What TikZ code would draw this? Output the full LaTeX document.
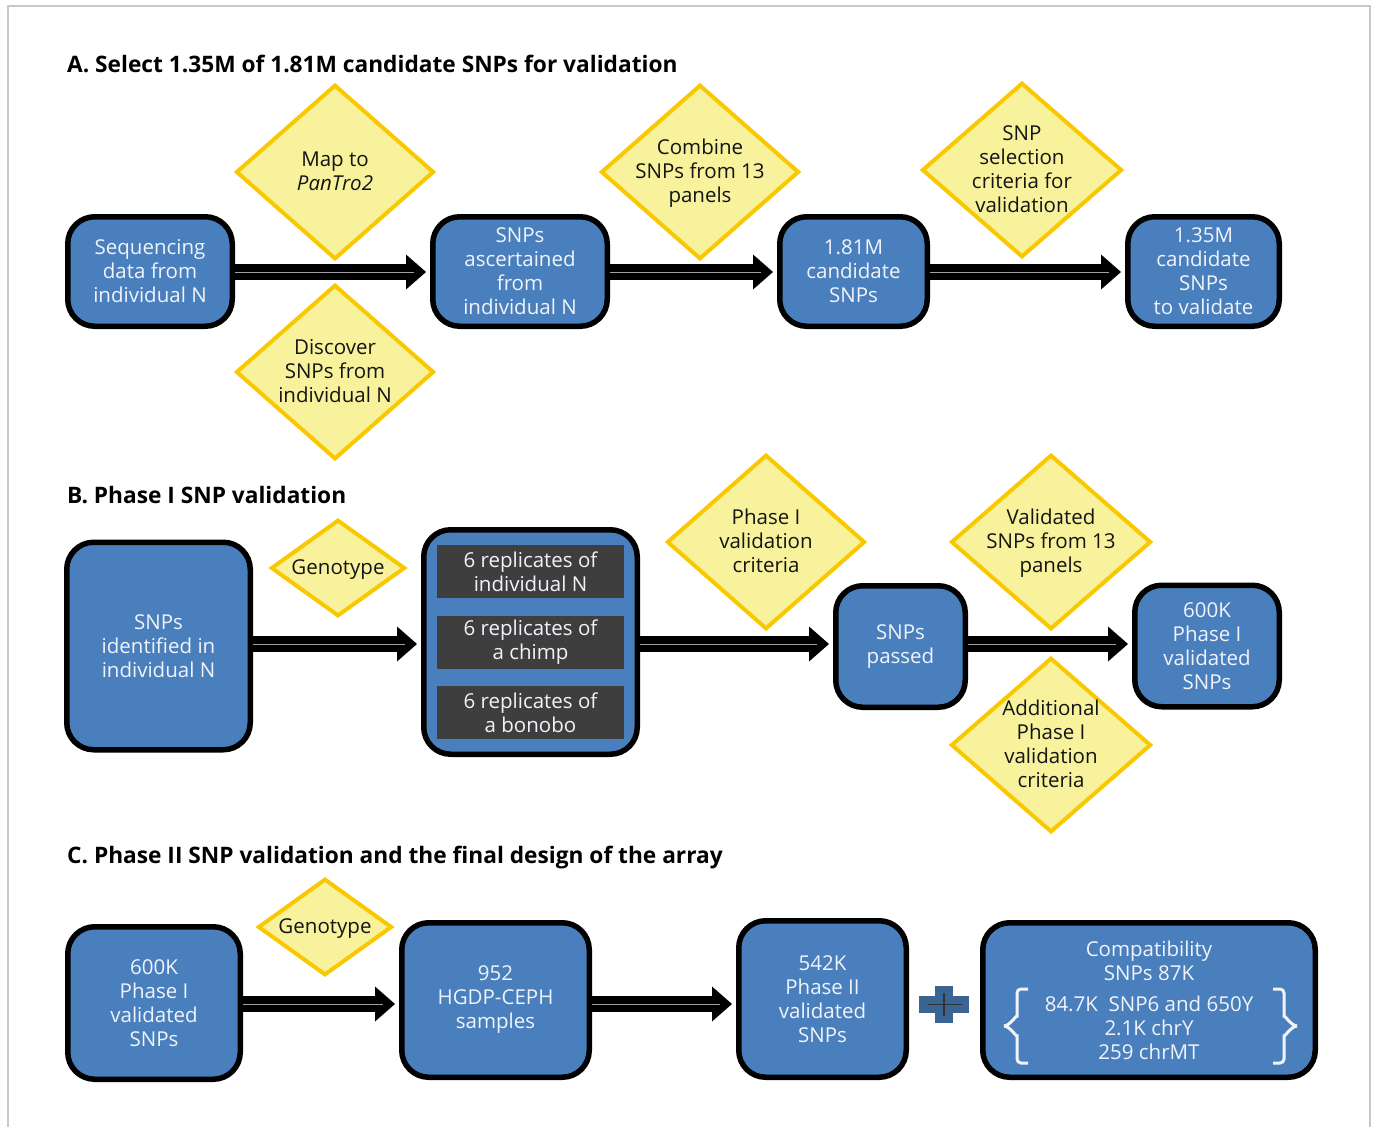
\documentclass[tikz,border=0pt]{standalone}
\usepackage{fontspec}
\setmainfont{Open Sans}
\usetikzlibrary{arrows.meta,shapes.geometric}
\definecolor{boxblue}{RGB}{74,127,189}
\definecolor{dfill}{RGB}{247,242,155}
\definecolor{dline}{RGB}{250,200,0}
\definecolor{rgray}{RGB}{62,62,62}
\definecolor{plusblue}{RGB}{58,100,146}
\definecolor{framegray}{RGB}{200,200,200}
\definecolor{btext}{RGB}{240,244,250}
\definecolor{dtext}{RGB}{20,20,20}
\newcommand{\dtxt}[1]{\makebox[0pt]{\raisebox{-7pt}[0pt][0pt]{\begin{tabular}{@{}c@{}}#1\end{tabular}}}}
\tikzset{
  bbox/.style={draw=black, line width=5.5pt, fill=boxblue, rounded corners=27pt, text=btext, align=center, inner sep=0pt, font=\fontsize{20.5}{24}\selectfont},
  bs/.style 2 args={minimum width=#1pt-5.5pt, minimum height=#2pt-5.5pt},
  dia/.style={shape=diamond, draw=dline, line width=4pt, fill=dfill, inner sep=0pt, text=dtext, font=\fontsize{20.5}{24}\selectfont},
  ds/.style 2 args={minimum width=#1pt-6pt, minimum height=#2pt-5.5pt},
  rep/.style={fill=rgray, text=btext, align=center, inner sep=0pt, font=\fontsize{20.5}{24}\selectfont, minimum width=187pt, minimum height=53pt},
  bigarrow/.style={draw=black, line width=16pt, -{Triangle[length=20pt,width=35pt,line width=0pt]}},
  midline/.style={draw=gray!75, line width=1pt},
  ttl/.style={anchor=base west, font=\fontsize{22.7}{26}\selectfont\bfseries, inner sep=0pt, text=black},
  bracestyle/.style={draw=btext, line width=3pt, rounded corners=4pt},
}
\begin{document}
\begin{tikzpicture}[x=1pt,y=-1pt]
\useasboundingbox (0,0) rectangle (1374,1127);
\fill[white] (0,0) rectangle (1374,1127);
\draw[framegray, line width=2.5pt] (8,1140) -- (8,6) -- (1370,6) -- (1370,1140);

% ---------- A ----------
\node[ttl] (tA) at (67,72) {A. Select 1.35M of 1.81M candidate SNPs for validation};
\node[dia, ds={204}{180}] (dA1) at (335,172) {\dtxt{Map to\\\textit{PanTro2}}};
\node[dia, ds={204}{180}] (dA2) at (335,372) {\dtxt{Discover\\SNPs from\\individual N}};
\node[dia, ds={204}{180}] (dA3) at (700,172) {\dtxt{Combine\\SNPs from 13\\panels}};
\node[dia, ds={206}{180}] (dA4) at (1022,170) {\dtxt{SNP\\selection\\criteria for\\validation}};

\node[bbox, bs={170}{115}] (A1) at (150,271.5) {Sequencing\\data from\\individual N};
\node[bbox, bs={180}{115}] (A2) at (520,271.5) {SNPs\\ascertained\\from\\individual N};
\node[bbox, bs={153}{115}] (A3) at (853.5,271.5) {1.81M\\candidate\\SNPs};
\node[bbox, bs={157}{115}] (A4) at (1203.5,271.5) {1.35M\\candidate\\SNPs\\to validate};

\draw[bigarrow] (A1.east|-0,272) -- ([xshift=-4pt]A2.west|-0,272);
\draw[midline] (A1.east|-0,272) -- ([xshift=-16pt]A2.west|-0,272);
\draw[bigarrow] (A2.east|-0,272) -- ([xshift=-4pt]A3.west|-0,272);
\draw[midline] (A2.east|-0,272) -- ([xshift=-16pt]A3.west|-0,272);
\draw[bigarrow] (A3.east|-0,272) -- ([xshift=-4pt]A4.west|-0,272);
\draw[midline] (A3.east|-0,272) -- ([xshift=-16pt]A4.west|-0,272);

% ---------- B ----------
\node[ttl] (tB) at (67,503) {B. Phase I SNP validation};
\node[dia, ds={140}{102}] (dB1) at (338,568) {\dtxt{Genotype}};
\node[dia, ds={204}{180}] (dB2) at (766,542) {\dtxt{Phase I\\validation\\criteria}};
\node[dia, ds={206}{180}] (dB3) at (1051,542) {\dtxt{Validated\\SNPs from 13\\panels}};
\node[dia, ds={206}{180}] (dB4) at (1051,745) {\dtxt{Additional\\Phase I\\validation\\criteria}};

\node[bbox, bs={189}{213}] (B1) at (158.5,646) {SNPs\\identified in\\individual N};
\node[bbox, bs={219}{230}] (B2) at (530.5,642) {};
\node[rep] (r1) at (530.5,571.5) {6 replicates of\\individual N};
\node[rep] (r2) at (530.5,642.5) {6 replicates of\\a chimp};
\node[rep] (r3) at (530.5,712.5) {6 replicates of\\a bonobo};
\node[bbox, bs={135}{127}] (B3) at (900.5,646.5) {SNPs\\passed};
\node[bbox, bs={150}{127}] (B4) at (1207,646) {600K\\Phase I\\validated\\SNPs};

\draw[bigarrow] (B1.east|-0,644) -- ([xshift=-4pt]B2.west|-0,644);
\draw[midline] (B1.east|-0,644) -- ([xshift=-16pt]B2.west|-0,644);
\draw[bigarrow] (B2.east|-0,644) -- ([xshift=-4pt]B3.west|-0,644);
\draw[midline] (B2.east|-0,644) -- ([xshift=-16pt]B3.west|-0,644);
\draw[bigarrow] (B3.east|-0,644) -- ([xshift=-4pt]B4.west|-0,644);
\draw[midline] (B3.east|-0,644) -- ([xshift=-16pt]B4.west|-0,644);

% ---------- C ----------
\node[ttl] (tC) at (67,863) {C. Phase II SNP validation and the final design of the array};
\node[dia, ds={140}{102}] (dC1) at (325,927) {\dtxt{Genotype}};
\node[bbox, bs={178}{158}] (C1) at (154,1003) {600K\\Phase I\\validated\\SNPs};
\node[bbox, bs={193}{160}] (C2) at (495.5,1000) {952\\HGDP-CEPH\\samples};
\node[bbox, bs={173}{162}] (C3) at (822.5,999) {542K\\Phase II\\validated\\SNPs};
\node[bbox, bs={338}{160}] (C4) at (1149,1000) {Compatibility\\SNPs 87K\\[7pt]84.7K\ \ SNP6 and 650Y\\2.1K chrY\\259 chrMT};

\draw[bigarrow] (C1.east|-0,1004) -- ([xshift=-4pt]C2.west|-0,1004);
\draw[midline] (C1.east|-0,1004) -- ([xshift=-16pt]C2.west|-0,1004);
\draw[bigarrow] (C2.east|-0,1004) -- ([xshift=-4pt]C3.west|-0,1004);
\draw[midline] (C2.east|-0,1004) -- ([xshift=-16pt]C3.west|-0,1004);

% plus sign
\fill[plusblue] (935,986) rectangle (953,1023);
\fill[plusblue] (919,996) rectangle (969,1013);
\draw[rgray!80!black, line width=1.3pt] (928,1004.5) -- (962,1004.5);
\draw[rgray!80!black, line width=1.3pt] (944,993) -- (944,1016);

% braces
\draw[bracestyle] (1028,989) -- (1017,989) -- (1017,1020) to[out=90,in=0] (1004,1026);
\draw[bracestyle] (1028,1063) -- (1017,1063) -- (1017,1032) to[out=-90,in=0] (1004,1026);
\draw[bracestyle] (1273,989) -- (1284,989) -- (1284,1020) to[out=90,in=180] (1297,1026);
\draw[bracestyle] (1273,1063) -- (1284,1063) -- (1284,1032) to[out=-90,in=180] (1297,1026);
\end{tikzpicture}
\end{document}
